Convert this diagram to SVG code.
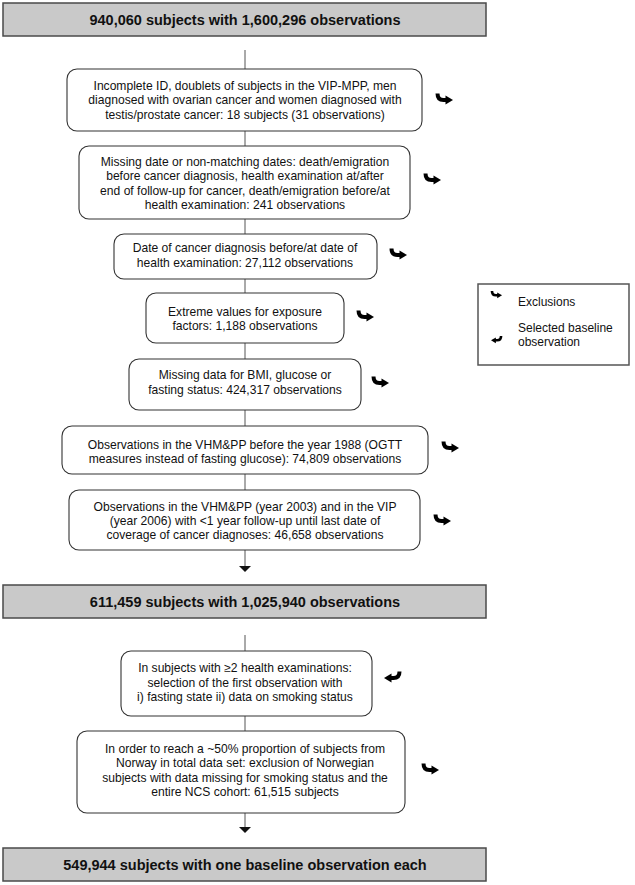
<svg xmlns="http://www.w3.org/2000/svg" xmlns:xlink="http://www.w3.org/1999/xlink" width="635" height="885" viewBox="0 0 635 885">
<style>
.hdr{fill:#c9c9c9;stroke:#4a4a4a;stroke-width:1.5}
.hdt{font-family:"Liberation Sans",Arial,sans-serif;font-size:14.5px;font-weight:bold;fill:#111;text-anchor:middle}
.box{fill:#fff;stroke:#333;stroke-width:1.1}
.bt{font-family:"Liberation Sans",Arial,sans-serif;font-size:12.1px;fill:#111;text-anchor:middle}
.lt{font-family:"Liberation Sans",Arial,sans-serif;font-size:12px;fill:#111}
.con{stroke:#555;stroke-width:1;fill:none}
.leg{fill:#fff;stroke:#555;stroke-width:1.5}
</style>
<defs>
<g id="exc">
<path d="M1.5,-4.5 Q1.5,2 7.5,2 L11,2" fill="none" stroke="#000" stroke-width="4"/>
<polygon points="9.5,-2.5 17,2 9.5,6.5" fill="#000"/>
</g>
<g id="sel">
<use xlink:href="#exc" href="#exc" transform="translate(17,0) scale(-1,1)"/>
</g>
<polygon id="tri" points="-6,0 6,0 0,6" fill="#111"/>
</defs>

<g id="connectors">
<line class="con" x1="245" y1="50" x2="245" y2="69"/>
<line class="con" x1="245" y1="131" x2="245" y2="146"/>
<line class="con" x1="245" y1="219" x2="245" y2="234"/>
<line class="con" x1="245" y1="279" x2="245" y2="293"/>
<line class="con" x1="245" y1="343" x2="245" y2="359"/>
<line class="con" x1="245" y1="410" x2="245" y2="426"/>
<line class="con" x1="245" y1="474" x2="245" y2="490"/>
<line class="con" x1="245" y1="550" x2="245" y2="567"/>
<use xlink:href="#tri" href="#tri" x="245" y="566"/>
<line class="con" x1="245" y1="635" x2="245" y2="651"/>
<line class="con" x1="245" y1="716" x2="245" y2="731"/>
<line class="con" x1="245" y1="813" x2="245" y2="828"/>
<use xlink:href="#tri" href="#tri" x="245" y="827"/>
</g>

<g id="header1">
<rect class="hdr" x="3" y="3" width="483" height="33"/>
<text class="hdt" x="245" y="24.7">940,060 subjects with 1,600,296 observations</text>
</g>

<g id="box1">
<rect class="box" x="67" y="69" width="355" height="62" rx="10"/>
<text class="bt" x="245" y="89.5">Incomplete ID, doublets of subjects in the VIP-MPP, men</text>
<text class="bt" x="245" y="104">diagnosed with ovarian cancer and women diagnosed with</text>
<text class="bt" x="245" y="118.5">testis/prostate cancer: 18 subjects (31 observations)</text>
<use xlink:href="#exc" href="#exc" x="436" y="98"/>
</g>

<g id="box2">
<rect class="box" x="79" y="146" width="331" height="73" rx="10"/>
<text class="bt" x="245" y="166">Missing date or non-matching dates: death/emigration</text>
<text class="bt" x="245" y="180.3">before cancer diagnosis, health examination at/after</text>
<text class="bt" x="245" y="194.6">end of follow-up for cancer, death/emigration before/at</text>
<text class="bt" x="245" y="208.9">health examination: 241 observations</text>
<use xlink:href="#exc" href="#exc" x="424" y="178"/>
</g>

<g id="box3">
<rect class="box" x="114" y="234" width="263" height="45" rx="10"/>
<text class="bt" x="245" y="252.3">Date of cancer diagnosis before/at date of</text>
<text class="bt" x="245" y="266.6">health examination: 27,112 observations</text>
<use xlink:href="#exc" href="#exc" x="390" y="253"/>
</g>

<g id="box4">
<rect class="box" x="146" y="293" width="198" height="50" rx="10"/>
<text class="bt" x="245" y="315.5">Extreme values for exposure</text>
<text class="bt" x="245" y="329.8">factors: 1,188 observations</text>
<use xlink:href="#exc" href="#exc" x="357" y="315"/>
</g>

<g id="box5">
<rect class="box" x="129" y="359" width="232" height="51" rx="10"/>
<text class="bt" x="245" y="379.3">Missing data for BMI, glucose or</text>
<text class="bt" x="245" y="393.6">fasting status: 424,317 observations</text>
<use xlink:href="#exc" href="#exc" x="372" y="381"/>
</g>

<g id="box6">
<rect class="box" x="62" y="426" width="366" height="48" rx="10"/>
<text class="bt" x="245" y="449">Observations in the VHM&amp;PP before the year 1988 (OGTT</text>
<text class="bt" x="245" y="463.3">measures instead of fasting glucose): 74,809 observations</text>
<use xlink:href="#exc" href="#exc" x="442" y="446"/>
</g>

<g id="box7">
<rect class="box" x="69" y="490" width="351" height="60" rx="10"/>
<text class="bt" x="245" y="510.8">Observations in the VHM&amp;PP (year 2003) and in the VIP</text>
<text class="bt" x="245" y="525.1">(year 2006) with &lt;1 year follow-up until last date of</text>
<text class="bt" x="245" y="539.4">coverage of cancer diagnoses: 46,658 observations</text>
<use xlink:href="#exc" href="#exc" x="434" y="519"/>
</g>

<g id="header2">
<rect class="hdr" x="3" y="585" width="483" height="33"/>
<text class="hdt" x="245" y="606.7">611,459 subjects with 1,025,940 observations</text>
</g>

<g id="box8">
<rect class="box" x="121" y="651" width="251" height="65" rx="10"/>
<text class="bt" x="245" y="672.2">In subjects with ≥2 health examinations:</text>
<text class="bt" x="245" y="686.5">selection of the first observation with</text>
<text class="bt" x="245" y="700.8">i) fasting state ii) data on smoking status</text>
<use xlink:href="#sel" href="#sel" x="384" y="676"/>
</g>

<g id="box9">
<rect class="box" x="77" y="731" width="328" height="82" rx="10"/>
<text class="bt" x="245" y="753">In order to reach a ~50% proportion of subjects from</text>
<text class="bt" x="245" y="767.3">Norway in total data set: exclusion of Norwegian</text>
<text class="bt" x="245" y="781.6">subjects with data missing for smoking status and the</text>
<text class="bt" x="245" y="795.9">entire NCS cohort: 61,515 subjects</text>
<use xlink:href="#exc" href="#exc" x="422" y="768"/>
</g>

<g id="header3">
<rect class="hdr" x="3" y="848" width="483" height="33"/>
<text class="hdt" x="245" y="869.7">549,944 subjects with one baseline observation each</text>
</g>

<g id="legend">
<rect class="leg" x="478" y="284" width="151" height="81"/>
<use xlink:href="#exc" href="#exc" transform="translate(491,294) scale(0.65)"/>
<text class="lt" x="518" y="306.3">Exclusions</text>
<use xlink:href="#sel" href="#sel" transform="translate(491,339) scale(0.65)"/>
<text class="lt" x="518" y="331.5">Selected baseline</text>
<text class="lt" x="518" y="346">observation</text>
</g>
</svg>
